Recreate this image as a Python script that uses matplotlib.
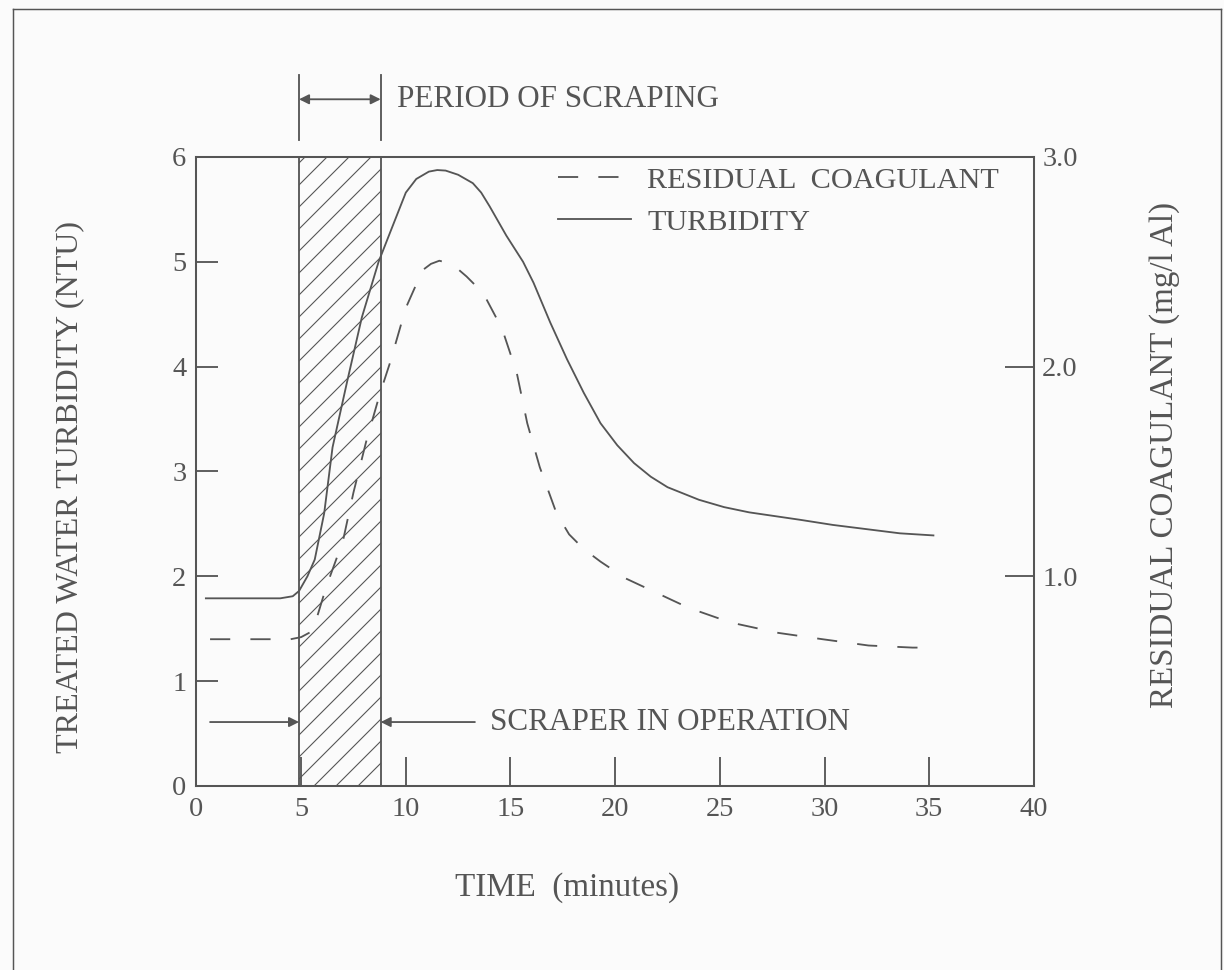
import matplotlib
matplotlib.use("Agg")
import matplotlib.pyplot as plt
from matplotlib.lines import Line2D

# Turbidity of treated water (NTU)
turb_time = [0.45, 2.0, 4.0, 4.6, 4.9, 5.3, 5.65, 6.1, 6.5, 7.2, 7.9, 8.7, 9.25,
             10.0, 10.5, 11.1, 11.5, 11.9, 12.5, 13.2, 13.6, 14.0, 14.8, 15.6,
             16.1, 16.9, 17.7, 18.5, 19.3, 20.1, 20.9, 21.7, 22.5, 24.0, 25.2,
             26.4, 28.8, 30.4, 32.0, 33.6, 35.2]
turb_ntu = [1.79, 1.79, 1.79, 1.81, 1.86, 2.0, 2.16, 2.6, 3.23, 3.86, 4.47, 5.0, 5.28,
            5.66, 5.79, 5.86, 5.875, 5.87, 5.83, 5.75, 5.66, 5.53, 5.25, 5.0,
            4.8, 4.42, 4.07, 3.75, 3.46, 3.25, 3.08, 2.95, 2.85, 2.73, 2.66,
            2.61, 2.54, 2.49, 2.45, 2.41, 2.39]

# Residual coagulant (mg/l Al)
coag_time = [0.65, 3.8, 4.5, 5.0, 5.56, 6.2, 7.0, 7.5, 8.1, 8.76, 9.25, 10.0, 10.8,
             11.2, 11.6, 12.2, 12.9, 13.7, 14.6, 15.3, 15.8, 16.4, 17.2, 17.8,
             18.5, 19.3, 20.5, 22.0, 23.5, 25.5, 27.8, 29.9, 32.1, 34.2, 34.8]
coag_mgl = [0.70, 0.70, 0.70, 0.71, 0.74, 0.95, 1.17, 1.40, 1.64, 1.87, 2.02, 2.28, 2.46,
            2.49, 2.505, 2.49, 2.43, 2.35, 2.18, 1.97, 1.73, 1.52, 1.30, 1.20,
            1.13, 1.07, 0.99, 0.92, 0.85, 0.78, 0.73, 0.70, 0.67, 0.66, 0.66]

scrape_start, scrape_end = 4.9, 8.8

x_ticks = [0, 5, 10, 15, 20, 25, 30, 35, 40]
left_ticks = [0, 1, 2, 3, 4, 5, 6]
right_ticks = [1.0, 2.0, 3.0]

DPI = 132
INK = "#555555"
plt.rcParams["font.family"] = ["Liberation Serif", "DejaVu Serif"]
plt.rcParams["hatch.linewidth"] = 0.6
plt.rcParams["hatch.color"] = INK

fig = plt.figure(figsize=(1224 / DPI, 970 / DPI), dpi=DPI, facecolor="#fbfbfb")
ax = fig.add_axes([0.1605, 0.1897, 0.6842, 0.6485])
ax.set_facecolor("#fbfbfb")
ax2 = ax.twinx()

# shaded scraping period
ax.axvspan(scrape_start, scrape_end, facecolor="none", edgecolor=INK,
           hatch="//", lw=1.0)

turb_line, = ax.plot(turb_time, turb_ntu, color=INK, lw=1.0, label="TURBIDITY")
coag_line, = ax2.plot(coag_time, coag_mgl, color=INK, lw=1.0,
                      dashes=(11, 11), label="RESIDUAL  COAGULANT")

ax.set_xlim(0, 40)
ax.set_ylim(0, 6)
ax2.set_ylim(0, 3)
ax.set_xticks(x_ticks)
ax.set_yticks(left_ticks)
ax2.set_yticks(right_ticks)
ax2.set_yticklabels([f"{v:.1f}" for v in right_ticks])

ax.tick_params(axis="x", direction="in", length=16, width=1.0, pad=6,
               labelsize=15.5, colors=INK)
ax.tick_params(axis="y", direction="in", length=12, width=1.0, pad=5.5,
               labelsize=15.5, colors=INK)
ax2.tick_params(axis="y", direction="in", length=16, width=1.0, pad=4.5,
                labelsize=15.5, colors=INK)
for a in (ax, ax2):
    for s in a.spines.values():
        s.set_color(INK)
        s.set_linewidth(1.1)

ax.set_xlabel("TIME  (minutes)", fontsize=18, color=INK, va="center")
ax.xaxis.set_label_coords(0.442, -0.162)
ax.set_ylabel("TREATED WATER TURBIDITY (NTU)", fontsize=17.5, color=INK, va="center")
ax.yaxis.set_label_coords(-0.151, 0.475)
ax2.set_ylabel("RESIDUAL COAGULANT (mg/l Al)", fontsize=18, color=INK,
               rotation=90, va="center")
ax2.yaxis.set_label_coords(1.156, 0.526)

leg = ax2.legend(handles=[coag_line, turb_line], loc="upper left",
                 bbox_to_anchor=(0.432, 0.985), frameon=False, fontsize=16.5,
                 handlelength=2.4, handletextpad=0.55, labelspacing=0.5,
                 borderpad=0, borderaxespad=0)
for t in leg.get_texts():
    t.set_color(INK)

# period of scraping marker above the plot
arrow = dict(color=INK, lw=1.0, shrinkA=0, shrinkB=0, mutation_scale=11)
for xv in (scrape_start, scrape_end):
    ax.plot([xv, xv], [6.16, 6.78], color=INK, lw=1.0, clip_on=False)
ax.annotate("", xy=(scrape_end, 6.55), xytext=(scrape_start, 6.55),
            arrowprops=dict(arrowstyle="<|-|>", **arrow), annotation_clip=False)
ax.text(9.6, 6.55, "PERIOD OF SCRAPING", fontsize=17, color=INK,
        ha="left", va="center")

# scraper in operation marker
ax.annotate("", xy=(scrape_start, 0.61), xytext=(0.65, 0.61),
            arrowprops=dict(arrowstyle="-|>", **arrow))
ax.annotate("", xy=(scrape_end, 0.61), xytext=(13.3, 0.61),
            arrowprops=dict(arrowstyle="-|>", **arrow))
ax.text(14.0, 0.61, "SCRAPER IN OPERATION", fontsize=17, color=INK,
        ha="left", va="center")

# page border
L, R, T = 13 / 1224, 1221 / 1224, 1 - 9 / 970
for xs, ys in (([L, L], [0, T]), ([L, R], [T, T]), ([R, R], [0, T])):
    fig.add_artist(Line2D(xs, ys, transform=fig.transFigure, color=INK, lw=0.8))

fig.savefig("out.png", dpi=DPI, facecolor=fig.get_facecolor())
